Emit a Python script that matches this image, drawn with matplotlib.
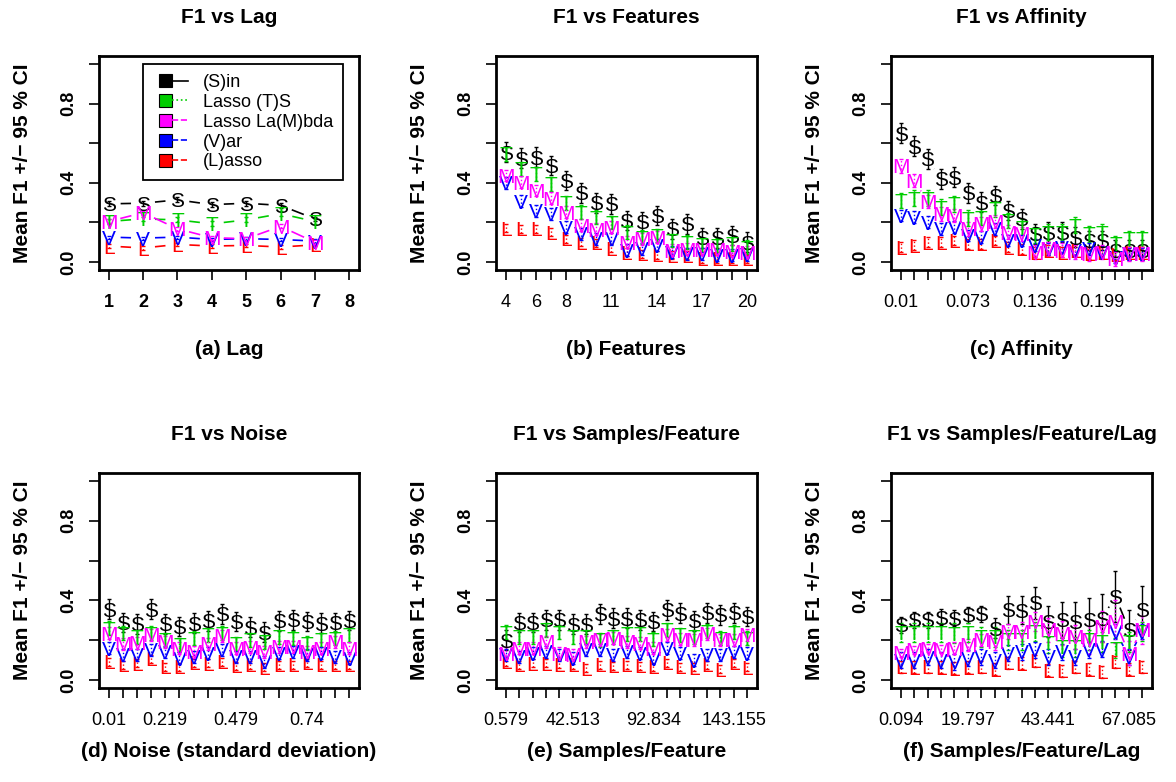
import matplotlib
matplotlib.use("Agg")
import matplotlib.pyplot as plt
import numpy as np
from matplotlib.legend_handler import HandlerBase
from matplotlib.patches import Rectangle
from matplotlib.lines import Line2D
from matplotlib.collections import LineCollection

plt.rcParams["font.family"] = ["Liberation Sans", "DejaVu Sans"]

# -------------------------
# DATA
# -------------------------
y_ticks = [0.0, 0.2, 0.4, 0.6, 0.8, 1.0]
y_tick_labels = ["0.0", "", "0.4", "", "0.8", ""]

lag_ticks = ["1", "2", "3", "4", "5", "6", "7", "8"]
lag_sin = [0.294, 0.297, 0.314, 0.290, 0.297, 0.286, 0.218]
lag_ts = [0.205, 0.218, 0.213, 0.193, 0.213, 0.244, 0.205]
lag_mbda = [0.205, 0.249, 0.168, 0.123, 0.118, 0.180, 0.100]
lag_var = [0.126, 0.121, 0.126, 0.114, 0.118, 0.114, 0.106]
lag_lasso = [0.081, 0.071, 0.089, 0.081, 0.084, 0.076, 0.087]
lag_ci = [0.012, 0.012, 0.010, 0.008, 0.008]

feat_ticks = ["4", "", "6", "", "8", "", "", "11", "", "", "14", "", "", "17", "", "", "20"]
feat_sin = [0.555, 0.524, 0.529, 0.487, 0.412, 0.350, 0.299, 0.294, 0.210, 0.205,
            0.235, 0.168, 0.193, 0.123, 0.123, 0.134, 0.100]
feat_ts = [0.546, 0.470, 0.445, 0.395, 0.300, 0.252, 0.227, 0.200, 0.151, 0.126,
           0.134, 0.109, 0.100, 0.087, 0.084, 0.092, 0.076]
feat_mbda = [0.437, 0.403, 0.361, 0.323, 0.252, 0.185, 0.165, 0.176, 0.100, 0.118,
             0.126, 0.059, 0.064, 0.064, 0.064, 0.054, 0.050]
feat_var = [0.400, 0.306, 0.260, 0.244, 0.176, 0.143, 0.118, 0.118, 0.059, 0.067,
            0.084, 0.050, 0.042, 0.042, 0.034, 0.034, 0.037]
feat_lasso = [0.171, 0.168, 0.168, 0.151, 0.118, 0.100, 0.097, 0.071, 0.050, 0.042,
              0.037, 0.034, 0.034, 0.017, 0.017, 0.017, 0.017]
feat_ci = [0.05, 0.035, 0.03, 0.03, 0.02]

aff_ticks = ["0.01", "", "", "", "", "0.073", "", "", "", "", "0.136", "", "", "", "",
             "0.199", "", "", ""]
aff_sin = [0.650, 0.585, 0.521, 0.420, 0.429, 0.350, 0.303, 0.336, 0.260, 0.218,
           0.143, 0.151, 0.151, 0.126, 0.109, 0.109, 0.059, 0.059, 0.059]
aff_ts = [0.311, 0.323, 0.323, 0.277, 0.294, 0.222, 0.227, 0.269, 0.210, 0.176,
          0.138, 0.151, 0.151, 0.185, 0.143, 0.151, 0.092, 0.118, 0.118]
aff_mbda = [0.487, 0.412, 0.306, 0.244, 0.235, 0.168, 0.193, 0.205, 0.151, 0.143,
            0.050, 0.067, 0.059, 0.050, 0.042, 0.050, 0.017, 0.042, 0.042]
aff_var = [0.235, 0.227, 0.202, 0.168, 0.176, 0.134, 0.126, 0.168, 0.109, 0.109,
           0.084, 0.067, 0.076, 0.059, 0.067, 0.050, 0.025, 0.042, 0.042]
aff_lasso = [0.076, 0.084, 0.100, 0.100, 0.109, 0.092, 0.092, 0.109, 0.076, 0.067,
             0.050, 0.059, 0.050, 0.059, 0.042, 0.050, 0.037, 0.050, 0.050]
aff_ci = [0.05, 0.04, 0.035, 0.03, 0.025]

noise_ticks = ["0.01", "", "", "", "0.219", "", "", "", "", "0.479", "", "", "", "",
               "0.74", "", "", ""]
noise_sin = [0.356, 0.289, 0.282, 0.356, 0.282, 0.269, 0.286, 0.297, 0.333, 0.294,
             0.266, 0.240, 0.297, 0.303, 0.294, 0.286, 0.289, 0.299]
noise_ts = [0.260, 0.235, 0.218, 0.235, 0.202, 0.176, 0.210, 0.227, 0.235, 0.182,
            0.202, 0.193, 0.218, 0.210, 0.185, 0.202, 0.210, 0.227]
noise_mbda = [0.235, 0.182, 0.188, 0.227, 0.193, 0.160, 0.143, 0.182, 0.222, 0.160,
              0.165, 0.143, 0.168, 0.168, 0.143, 0.160, 0.193, 0.160]
noise_var = [0.160, 0.126, 0.126, 0.151, 0.143, 0.109, 0.118, 0.134, 0.151, 0.118,
             0.118, 0.092, 0.134, 0.143, 0.126, 0.134, 0.118, 0.109]
noise_lasso = [0.092, 0.076, 0.084, 0.106, 0.067, 0.067, 0.087, 0.084, 0.092, 0.071,
               0.076, 0.064, 0.076, 0.076, 0.087, 0.076, 0.076, 0.076]
noise_ci = [0.05, 0.035, 0.03, 0.03, 0.02]

sf_ticks = ["0.579", "", "", "", "", "42.513", "", "", "", "", "", "92.834", "", "", "",
            "", "", "143.155", ""]
sf_sin = [0.200, 0.289, 0.289, 0.303, 0.303, 0.281, 0.281, 0.333, 0.311, 0.311,
          0.303, 0.294, 0.353, 0.336, 0.297, 0.339, 0.328, 0.339, 0.319]
sf_ts = [0.239, 0.218, 0.218, 0.252, 0.239, 0.218, 0.218, 0.202, 0.218, 0.232,
         0.232, 0.205, 0.252, 0.227, 0.218, 0.244, 0.210, 0.239, 0.210]
sf_mbda = [0.134, 0.160, 0.160, 0.193, 0.134, 0.126, 0.193, 0.202, 0.210, 0.193,
           0.185, 0.160, 0.227, 0.205, 0.202, 0.232, 0.202, 0.202, 0.227]
sf_var = [0.126, 0.118, 0.134, 0.143, 0.126, 0.109, 0.151, 0.151, 0.126, 0.143,
          0.134, 0.109, 0.160, 0.134, 0.100, 0.126, 0.126, 0.143, 0.134]
sf_lasso = [0.092, 0.076, 0.084, 0.084, 0.079, 0.076, 0.059, 0.076, 0.071, 0.076,
            0.071, 0.067, 0.087, 0.067, 0.064, 0.076, 0.054, 0.087, 0.064]
sf_ci = [0.05, 0.035, 0.03, 0.03, 0.02]

sfl_ticks = ["0.094", "", "", "", "", "19.797", "", "", "", "", "", "43.441", "", "", "",
             "", "", "67.085", ""]
sfl_sin = [0.277, 0.303, 0.303, 0.316, 0.311, 0.328, 0.333, 0.260, 0.353, 0.350,
           0.387, 0.294, 0.303, 0.294, 0.303, 0.311, 0.420, 0.252, 0.353]
sfl_ts = [0.239, 0.239, 0.239, 0.239, 0.235, 0.239, 0.218, 0.218, 0.202, 0.202,
          0.244, 0.188, 0.168, 0.168, 0.202, 0.193, 0.160, 0.193, 0.244]
sfl_mbda = [0.138, 0.151, 0.160, 0.155, 0.160, 0.176, 0.202, 0.193, 0.244, 0.244,
            0.294, 0.252, 0.235, 0.218, 0.202, 0.269, 0.294, 0.134, 0.252]
sfl_var = [0.100, 0.100, 0.114, 0.100, 0.092, 0.109, 0.118, 0.100, 0.134, 0.143,
           0.151, 0.118, 0.143, 0.118, 0.151, 0.155, 0.244, 0.118, 0.244]
sfl_lasso = [0.067, 0.064, 0.067, 0.064, 0.059, 0.064, 0.067, 0.054, 0.087, 0.084,
             0.097, 0.050, 0.047, 0.067, 0.054, 0.042, 0.092, 0.054, 0.067]
sfl_ci_sin = [0.04, 0.04, 0.04, 0.04, 0.04, 0.04, 0.04, 0.05, 0.07, 0.07,
              0.08, 0.08, 0.09, 0.10, 0.11, 0.12, 0.13, 0.10, 0.12]
sfl_ci_mbda = [0.02, 0.02, 0.02, 0.02, 0.03, 0.03, 0.03, 0.04, 0.04, 0.05,
               0.05, 0.06, 0.06, 0.06, 0.07, 0.08, 0.11, 0.06, 0.07]
sfl_ci = [sfl_ci_sin, 0.05, sfl_ci_mbda, 0.04, 0.03]

# -------------------------
# STYLE
# -------------------------
letters = ["S", "T", "M", "V", "L"]
colors = ["black", "#00CD00", "#FF00FF", "#0000FF", "#FF0000"]
legend_labels = ["(S)in", "Lasso (T)S", "Lasso La(M)bda", "(V)ar", "(L)asso"]
legend_styles = ["-", ":", (0, (5, 3, 1, 3)), (0, (3, 3, 1, 3)), (0, (4, 4))]
bar_styles = ["-", ":", ":", ":", ":"]
draw_order = [0, 1, 4, 3, 2]

panels = [
    ("F1 vs Lag", "(a) Lag", lag_ticks,
     [lag_sin, lag_ts, lag_mbda, lag_var, lag_lasso], lag_ci),
    ("F1 vs Features", "(b) Features", feat_ticks,
     [feat_sin, feat_ts, feat_mbda, feat_var, feat_lasso], feat_ci),
    ("F1 vs Affinity", "(c) Affinity", aff_ticks,
     [aff_sin, aff_ts, aff_mbda, aff_var, aff_lasso], aff_ci),
    ("F1 vs Noise", "(d) Noise (standard deviation)", noise_ticks,
     [noise_sin, noise_ts, noise_mbda, noise_var, noise_lasso], noise_ci),
    ("F1 vs Samples/Feature", "(e) Samples/Feature", sf_ticks,
     [sf_sin, sf_ts, sf_mbda, sf_var, sf_lasso], sf_ci),
    ("F1 vs Samples/Feature/Lag", "(f) Samples/Feature/Lag", sfl_ticks,
     [sfl_sin, sfl_ts, sfl_mbda, sfl_var, sfl_lasso], sfl_ci),
]

W, H = 1176, 782
col_left = [99, 496, 891]
col_width = [260, 261, 261]
row_top = [56, 473]
row_height = [214, 215]
xlabel_y = [-0.327, -0.251]
GAP = 12  # px gap around each letter, like R type="b"


class BoxLineHandler(HandlerBase):
    def create_artists(self, legend, orig, xdescent, ydescent, width, height,
                       fontsize, trans):
        x0, y0 = -xdescent, -ydescent
        off = 0.18 * width
        s = 0.72 * fontsize
        cy = y0 + height / 2
        rect = Rectangle((x0 + off, cy - s / 2), s, s, facecolor=orig.get_color(),
                         edgecolor="black", linewidth=0.8, transform=trans)
        line = Line2D([x0 + off + s, x0 + width], [cy, cy], color=orig.get_color(),
                      linestyle=orig.get_linestyle(), linewidth=1.2, transform=trans)
        return [rect, line]


def gapped_segments(ax, x, y, gap):
    pts = ax.transData.transform(np.column_stack([x, y]))
    inv = ax.transData.inverted()
    segs = []
    for p0, p1 in zip(pts[:-1], pts[1:]):
        d = p1 - p0
        n = np.hypot(d[0], d[1])
        if n <= 2 * gap:
            continue
        u = d / n
        segs.append(inv.transform(np.array([p0 + u * gap, p1 - u * gap])))
    return segs


fig = plt.figure(figsize=(W / 100, H / 100), dpi=100)

for k, (title, xlabel, ticks, series, cis) in enumerate(panels):
    r, c = divmod(k, 3)
    rect = [col_left[c] / W, 1 - (row_top[r] + row_height[r]) / H,
            col_width[c] / W, row_height[r] / H]
    ax = fig.add_axes(rect)
    n = len(ticks)
    ax.set_xlim(-0.04 * (n - 1), (n - 1) * 1.04)
    ax.set_ylim(-0.04, 1.04)

    ax.set_xticks(np.arange(n))
    ax.set_xticklabels(ticks, fontsize=13, fontweight="bold" if k == 0 else "normal")
    ax.set_yticks(y_ticks)
    ax.set_yticklabels(y_tick_labels, fontsize=13, fontweight="bold")
    plt.setp(ax.get_yticklabels(), rotation=90, va="center")
    ax.tick_params(axis="both", direction="out", length=7, width=1.2)
    ax.tick_params(axis="x", pad=10)
    ax.tick_params(axis="y", pad=8.5)
    for sp in ax.spines.values():
        sp.set_linewidth(2)

    ax.set_title(title, fontsize=15, fontweight="bold", pad=24)
    ax.set_xlabel(xlabel, fontsize=15, fontweight="bold", va="top")
    ax.xaxis.set_label_coords(0.5, xlabel_y[r])
    ax.set_ylabel("Mean F1 +/\u2212 95 % CI", fontsize=15, fontweight="bold")
    ax.yaxis.set_label_coords(-0.258, 0.5)

    for i in draw_order:
        vals = np.asarray(series[i])
        xs = np.arange(len(vals))
        ci = np.broadcast_to(np.asarray(cis[i], dtype=float), vals.shape)
        segs = gapped_segments(ax, xs, vals, GAP)
        ax.add_collection(LineCollection(segs, colors=colors[i], linewidths=1.2, zorder=2))
        eb = ax.errorbar(xs, vals, yerr=ci, fmt="none", ecolor=colors[i],
                         elinewidth=1.0, capsize=1.2, capthick=1.0, zorder=2)
        eb[2][0].set_linestyle(bar_styles[i])
        for x, v in zip(xs, vals):
            ax.text(x, v, letters[i], color=colors[i], fontsize=15,
                    ha="center", va="center_baseline", zorder=3)

    if k == 0:
        handles = [Line2D([], [], color=colors[i], linestyle=legend_styles[i])
                   for i in range(5)]
        leg = ax.legend(handles, legend_labels, loc="upper left",
                        bbox_to_anchor=(0.169, 0.963), borderaxespad=0,
                        fontsize=13, labelspacing=0.16, borderpad=0.55,
                        handlelength=1.95, handletextpad=0.8, fancybox=False,
                        framealpha=1, edgecolor="black",
                        handler_map={Line2D: BoxLineHandler()})
        leg.get_frame().set_linewidth(1.3)

fig.savefig("out.png", dpi=100)
